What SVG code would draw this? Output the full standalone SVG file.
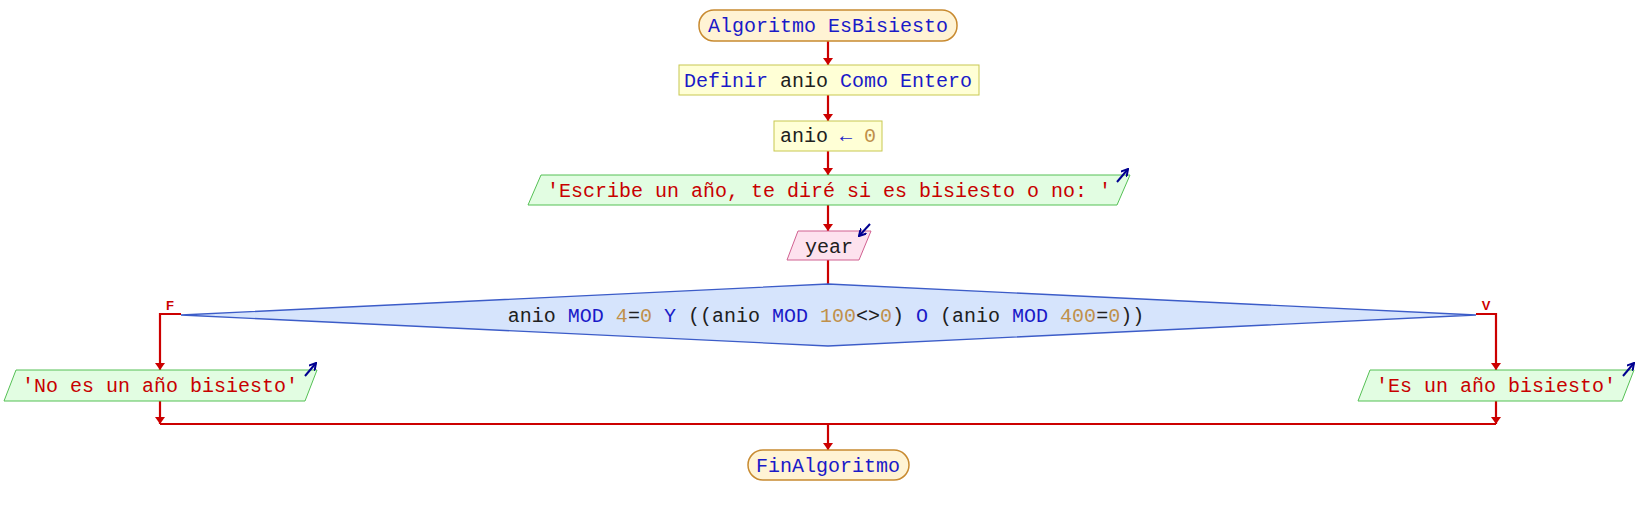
<svg xmlns="http://www.w3.org/2000/svg" width="1638" height="515" viewBox="0 0 1638 515">
<defs>
<marker id="ah" markerUnits="userSpaceOnUse" markerWidth="8" markerHeight="11" refX="7" refY="5" orient="auto">
<path d="M0,0 L7,5 L0,10 Z" fill="#cc0000"/>
</marker>
<marker id="ib" markerUnits="userSpaceOnUse" markerWidth="8" markerHeight="8" refX="7" refY="4" orient="auto">
<path d="M0,0 L7,4 L0,8" fill="none" stroke="#000090" stroke-width="2"/>
</marker>
<style>
text{font-family:"Liberation Mono","Courier New",monospace;font-size:20px;fill:#202020}
.kw{fill:#1a1ac8}
.num{fill:#c0904a}
.str{fill:#c80000}
.lbl{font-family:"Liberation Sans",Arial,sans-serif;font-size:13px;font-weight:bold;fill:#cc0000}
.term{fill:#fff3d4;stroke:#c88a30;stroke-width:1.5}
.proc{fill:#ffffd6;stroke:#c8c850;stroke-width:1}
.out{fill:#e2fde2;stroke:#55c055;stroke-width:1}
.in{fill:#fde2ee;stroke:#d06090;stroke-width:1}
.dec{fill:#d6e4fc;stroke:#3c5cc8;stroke-width:1.3}
.con{fill:none;stroke:#cc0000;stroke-width:2.2}
.io{fill:none;stroke:#000090;stroke-width:2}
</style>
</defs>

<g id="connectors">
<path class="con" d="M828,41 V65" marker-end="url(#ah)"/>
<path class="con" d="M828,95 V121" marker-end="url(#ah)"/>
<path class="con" d="M828,151 V175" marker-end="url(#ah)"/>
<path class="con" d="M828,205 V231" marker-end="url(#ah)"/>
<path class="con" d="M828,260 V284"/>
<path class="con" d="M181,314 H160 V370" marker-end="url(#ah)"/>
<path class="con" d="M1476,314 H1496 V370" marker-end="url(#ah)"/>
<path class="con" d="M160,401 V424" marker-end="url(#ah)"/>
<path class="con" d="M1496,401 V424" marker-end="url(#ah)"/>
<path class="con" d="M160,424 H1496"/>
<path class="con" d="M828,424 V450" marker-end="url(#ah)"/>
<text class="lbl" x="170" y="310" text-anchor="middle">F</text>
<text class="lbl" x="1486" y="310" text-anchor="middle">V</text>
</g>

<g id="start">
<rect class="term" x="699" y="10" width="258" height="31" rx="15" ry="15"/>
<text x="828" y="32" text-anchor="middle"><tspan class="kw">Algoritmo EsBisiesto</tspan></text>
</g>

<g id="define">
<rect class="proc" x="679" y="65" width="300" height="30"/>
<text x="828" y="87" text-anchor="middle"><tspan class="kw">Definir</tspan> anio <tspan class="kw">Como Entero</tspan></text>
</g>

<g id="assign">
<rect class="proc" x="774" y="121" width="108" height="30"/>
<text x="828" y="142" text-anchor="middle">anio <tspan class="kw">←</tspan> <tspan class="num">0</tspan></text>
</g>

<g id="write1">
<polygon class="out" points="541,175 1130,175 1117,205 528,205"/>
<text x="829" y="197" text-anchor="middle"><tspan class="str">'Escribe un año, te diré si es bisiesto o no: '</tspan></text>
<path class="io" d="M1117,182 L1128,169" marker-end="url(#ib)"/>
</g>

<g id="read">
<polygon class="in" points="798,231 871,231 859,260 787,260"/>
<text x="829" y="253" text-anchor="middle">year</text>
<path class="io" d="M870,224 L859,236" marker-end="url(#ib)"/>
</g>

<g id="decision">
<polygon class="dec" points="181,315 828,284 1476,315 828,346"/>
<text x="826" y="322" text-anchor="middle">anio <tspan class="kw">MOD</tspan> <tspan class="num">4</tspan>=<tspan class="num">0</tspan> <tspan class="kw">Y</tspan> ((anio <tspan class="kw">MOD</tspan> <tspan class="num">100</tspan>&lt;&gt;<tspan class="num">0</tspan>) <tspan class="kw">O</tspan> (anio <tspan class="kw">MOD</tspan> <tspan class="num">400</tspan>=<tspan class="num">0</tspan>))</text>
</g>

<g id="write_no">
<polygon class="out" points="16,370 317,370 305,401 4,401"/>
<text x="160" y="392" text-anchor="middle"><tspan class="str">'No es un año bisiesto'</tspan></text>
<path class="io" d="M305,376 L316,363" marker-end="url(#ib)"/>
</g>

<g id="write_yes">
<polygon class="out" points="1370,370 1634,370 1622,401 1358,401"/>
<text x="1496" y="392" text-anchor="middle"><tspan class="str">'Es un año bisiesto'</tspan></text>
<path class="io" d="M1623,376 L1634,363" marker-end="url(#ib)"/>
</g>

<g id="end">
<rect class="term" x="748" y="450" width="161" height="30" rx="15" ry="15"/>
<text x="828" y="472" text-anchor="middle"><tspan class="kw">FinAlgoritmo</tspan></text>
</g>
</svg>
